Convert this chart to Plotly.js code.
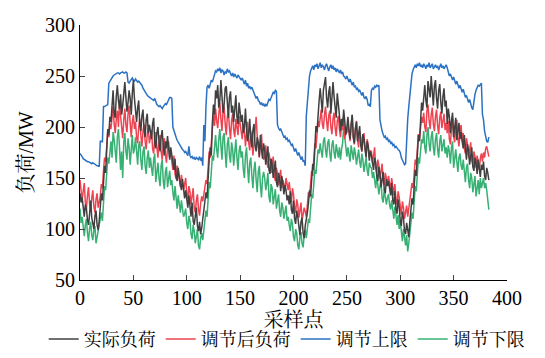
<!DOCTYPE html>
<html>
<head>
<meta charset="utf-8">
<script src="https://cdn.plot.ly/plotly-3.0.1.min.js"></script>
<style>html,body{margin:0;padding:0;background:#fff;}#chart{width:545px;height:358px;}</style>
</head>
<body>
<div id="chart"></div>
<script>
const seriesNames = ["实际负荷", "调节后负荷", "调节上限", "调节下限"];

const upperLimit = [
174,173,171,169,168,167,167,166,166,165,165,164,165,164,163,163,162,162,161,
186,186,185,
220,220,221,221,222,
243,245,247,
249,250,251,252,252,253,253,252,253,254,254,253,253,254,253,
244,243,245,247,248,246,245,247,246,244,245,244,
243,241,238,236,234,233,231,230,229,229,
228,227,226,228,224,222,221,220,221,219,218,220,221,223,222,224,227,229,
229,228,
200,196,193,190,187,185,183,181,180,178,
177,175,176,174,172,181,172,170,171,169,170,168,170,169,168,171,167,170,162,
202,186,220,
239,241,238,242,246,244,248,
252,255,254,257,255,258,253,256,255,251,254,253,257,254,255,252,250,253,249,252,250,248,251,249,247,
246,248,244,242,246,240,243,238,240,237,239,236,234,
231,228,230,226,225,222,224,221,223,220,222,221,
224,227,226,229,232,234,233,236,235,
202,199,197,198,195,193,190,191,188,189,186,187,
184,182,183,178,176,179,174,172,175,170,168,171,166,167,162,
211,225,239,250,255,
258,260,256,261,259,262,257,260,263,258,261,259,256,260,262,258,255,259,261,257,260,256,258,254,257,255,253,256,252,254,250,
249,247,250,246,244,247,243,241,244,239,240,237,238,235,236,233,231,234,229,228,230,227,
221,222,220,
236,238,237,240,239,241,240,241,
207,200,196,
193,190,191,188,189,186,187,184,185,182,183,180,181,179,178,177,175,170,
168,165,163,164,
194,208,220,232,243,252,
256,259,261,258,262,260,263,259,261,258,262,260,257,261,259,263,258,260,262,257,259,261,258,260,256,259,262,258,260,257,259,261,258,
253,250,252,248,246,249,244,242,245,240,238,241,236,234,237,232,229,231,226,224,227,221,219,217,
228,232,236,239,241,240,242,243,
212,207,196,190,186,185,190
];

const actualLoad = [
135,126,131,118,112,124,120,109,104,115,128,111,106,100,113,118,104,99,108,
122,135,128,146,162,155,178,198,192,210,
205,222,236,214,209,230,241,226,218,232,212,221,238,244,229,215,224,236,228,212,233,246,
228,214,205,219,226,203,196,211,217,198,190,207,213,194,202,
196,188,203,209,185,179,194,200,186,176,190,197,181,172,186,179,191,174,168,180,
171,163,158,169,152,147,160,151,142,138,149,136,
130,138,126,121,133,117,112,126,108,104,117,121,103,98,107,95,101,110,116,
122,136,130,152,168,180,172,204,222,212,
236,228,241,219,226,246,233,214,222,238,240,217,209,229,235,214,221,205,219,231,210,203,224,216,
205,212,194,200,218,198,186,193,208,189,180,197,203,182,176,190,185,171,192,178,169,184,
177,163,172,181,158,154,169,163,150,160,167,146,141,155,149,137,152,145,134,143,138,128,
133,124,137,119,115,128,110,105,118,112,99,94,107,111,96,91,103,108,
116,125,138,132,151,164,158,183,201,195,218,226,
238,222,214,236,243,249,228,219,234,240,213,226,244,230,216,209,233,224,212,
196,208,201,217,206,192,200,
210,197,188,203,212,190,184,199,205,186,194,201,182,176,193,188,179,170,186,181,167,176,
172,163,158,170,165,152,147,161,154,141,148,156,139,135,149,142,
147,138,133,145,128,124,137,120,115,129,122,108,103,117,111,98,95,106,100,92,108,
118,130,124,146,158,152,176,192,186,208,224,
216,232,241,226,219,245,238,229,250,234,221,240,246,228,218,236,242,224,213,230,238,220,226,
203,218,210,194,206,214,190,200,209,187,196,204,188,195,
186,179,192,175,168,183,177,163,172,180,161,157,170,165,154,168,160,151,163,
158,166,152,148,160,155,148
];

const adjustedLoad = [
148,140,128,137,145,126,120,133,141,124,118,130,138,122,116,129,135,121,126,
132,144,140,157,170,166,184,196,190,203,
198,212,220,203,194,208,216,200,226,211,196,189,207,218,202,195,213,221,204,190,205,212,
198,205,190,184,200,208,192,181,196,203,186,178,193,199,184,
190,197,179,174,188,195,181,170,185,192,176,168,183,189,173,165,180,186,170,176,
166,158,172,154,149,162,157,145,141,153,147,138,
144,150,135,129,142,137,124,131,140,121,116,128,134,119,113,125,132,127,135,
138,148,144,160,176,170,188,198,212,201,
218,206,199,212,224,208,196,215,220,203,192,210,216,199,188,206,213,197,190,208,202,192,211,204,
196,188,203,197,181,192,205,185,177,196,188,172,183,199,210,191,178,170,186,193,175,168,
170,182,166,160,175,168,155,163,171,152,147,160,154,143,151,158,140,148,144,137,150,142,
138,146,131,126,140,134,121,116,129,124,111,118,126,108,113,121,117,112,
124,136,131,146,157,152,170,184,179,194,206,200,
209,217,203,198,212,220,206,196,211,216,200,193,208,214,199,191,206,211,198,
190,203,197,211,188,199,194,
203,196,186,201,212,190,183,198,206,187,180,196,190,176,185,194,179,172,188,182,170,177,
176,165,172,180,160,155,168,162,149,157,164,147,143,155,150,144,
152,145,138,150,141,133,144,128,124,137,131,119,114,127,121,110,117,123,112,120,127,
133,145,140,156,168,163,180,193,187,201,210,
204,214,200,195,216,222,207,198,212,219,203,196,210,217,201,193,209,215,199,206,213,197,204,
194,206,188,183,199,210,191,185,201,207,189,181,196,202,
186,194,179,174,189,183,170,178,185,167,163,176,171,160,172,166,158,169,174,
166,175,170,179,181,176,171
];

const lowerLimit = [
120,106,112,98,93,104,110,96,88,101,107,94,89,99,103,86,92,97,104,
110,116,108,128,142,138,155,170,164,176,
186,170,195,188,172,165,190,198,180,158,176,150,185,194,176,168,189,180,163,178,192,174,
178,190,170,163,182,186,168,158,176,181,162,154,170,177,160,
170,160,152,168,174,146,158,165,150,142,162,168,147,139,156,161,141,150,157,143,
148,136,128,142,131,120,133,126,116,128,121,112,
115,120,106,100,113,108,95,90,104,98,86,93,100,84,80,91,96,89,100,
108,118,112,132,146,140,160,172,167,182,
192,178,170,188,198,182,168,190,194,175,160,183,190,172,165,185,178,162,180,188,170,158,176,182,
170,176,158,150,172,180,160,145,165,170,152,140,158,166,148,136,156,162,143,131,150,156,
150,138,145,155,132,126,144,140,124,133,139,120,127,134,118,112,126,121,110,118,123,108,
112,104,98,110,105,92,88,100,96,84,80,92,97,86,82,94,99,91,
102,110,106,121,134,130,148,158,154,170,178,174,
184,176,170,186,190,178,170,184,188,174,166,182,187,175,169,183,178,170,180,
168,178,184,200,190,176,171,
180,172,166,182,176,168,180,174,163,172,178,166,160,174,168,156,164,170,158,152,165,161,
160,150,156,146,140,152,145,134,142,148,130,126,139,133,124,131,
134,124,119,128,116,110,122,112,104,114,100,108,96,88,100,92,84,94,78,86,98,
104,116,110,128,142,137,156,170,164,178,188,
184,196,180,174,192,200,184,176,190,196,180,172,188,194,178,170,186,192,176,182,188,174,180,
170,182,176,164,180,186,160,170,178,166,156,170,174,162,
158,168,152,146,160,164,148,140,155,150,136,146,152,132,142,148,134,150,140,
146,150,140,145,138,126,119
];

const xTickVals = [0, 50, 100, 150, 200, 250, 300, 350, 400];
const yTickVals = [50, 100, 150, 200, 250, 300];

const colors = ["#404040", "#ee4350", "#2b72c4", "#37b073"];
const seriesData = [actualLoad, adjustedLoad, upperLimit, lowerLimit];

const traces = seriesData.map((ys, k) => ({
  x: ys.map((_, i) => i),
  y: ys,
  type: "scatter",
  mode: "lines",
  name: seriesNames[k],
  legendrank: k + 1,
  line: {color: colors[k], width: 1.5}
}));
const order = [2, 3, 1, 0];
const plotted = order.map(k => traces[k]);

const fontFam = "'Liberation Serif', 'Times New Roman', 'Noto Serif CJK SC', 'Noto Sans CJK SC', serif";

const layout = {
  width: 545, height: 358,
  margin: {l: 80, r: 38, t: 25, b: 78, autoexpand: false},
  paper_bgcolor: "#fff", plot_bgcolor: "#fff",
  font: {family: fontFam, size: 20, color: "#000"},
  showlegend: true,
  legend: {orientation: "h", x: -0.085, xanchor: "left", y: -0.305, yanchor: "bottom",
           font: {size: 18}, itemwidth: 30, traceorder: "normal",
           bgcolor: "rgba(0,0,0,0)"},
  xaxis: {
    range: [0, 400], tickvals: xTickVals, ticks: "inside", ticklen: 5,
    showline: true, linecolor: "#000", linewidth: 1, showgrid: false, zeroline: false,
    tickfont: {size: 20}, automargin: true,
    title: {text: "采样点", font: {size: 20}, standoff: 3}
  },
  yaxis: {
    range: [50, 300], tickvals: yTickVals, ticks: "inside", ticklen: 5,
    showline: true, linecolor: "#000", linewidth: 1, showgrid: false, zeroline: false,
    tickfont: {size: 20}, automargin: true,
    title: {text: "负荷/MW", font: {size: 20}, standoff: 6}
  }
};

Plotly.newPlot("chart", plotted, layout, {displayModeBar: false, staticPlot: true});
</script>
</body>
</html>
